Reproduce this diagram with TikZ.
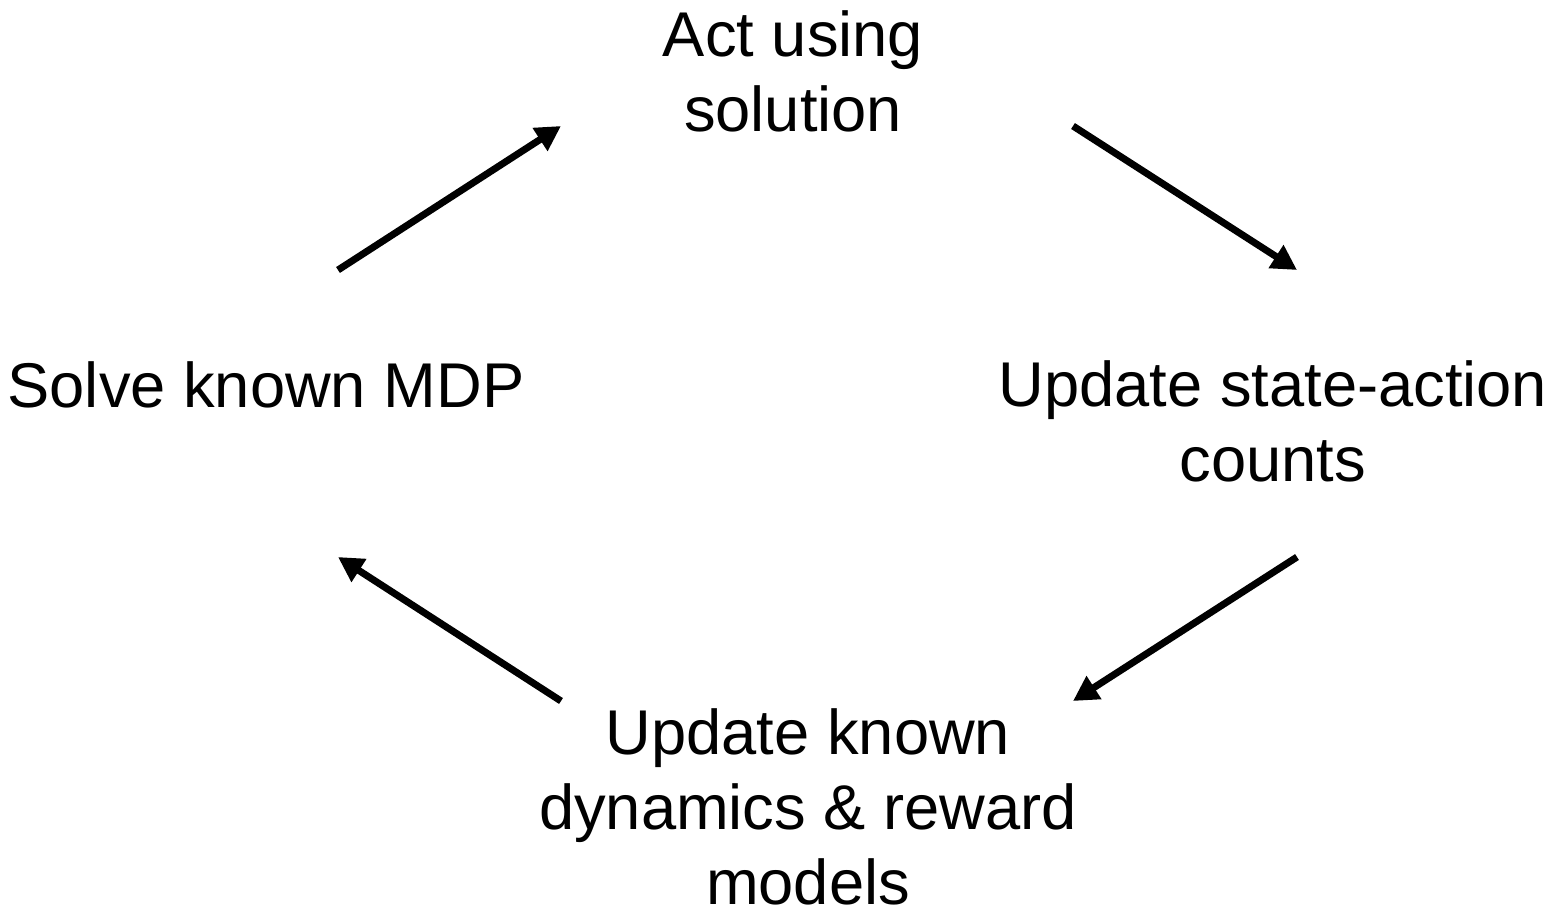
\documentclass[tikz,border=0pt]{standalone}
\usepackage{fontspec}
\setmainfont{Liberation Sans}
\usetikzlibrary{arrows.meta}

\begin{document}
\begin{tikzpicture}[
        x=0.02cm, y=-0.02cm,
        every node/.style={align=center, font=\fontsize{36}{42.5}\selectfont, inner sep=0pt},
        arrow/.style={-{Triangle[length=0.5cm,width=0.52cm]}, line width=0.14cm}
      ]
        \useasboundingbox (0,0) rectangle (1557,923);
        % base anchor = baseline of the last line
        \node (solve) [anchor=base] at (266,407) {Solve known MDP};
        \node (act)   [anchor=base] at (793,131) {Act using\\ solution};
        \node (counts)[anchor=base] at (1273,481) {Update state-action\\ counts};
        \node (models)[anchor=base] at (808,904) {Update known\\ dynamics \& reward\\ models};
        % arrow ends
        \coordinate (solve-out)  at (338,270);
        \coordinate (act-in)     at (561,126);
        \coordinate (act-out)    at (1073,126);
        \coordinate (counts-in)  at (1297,270);
        \coordinate (counts-out) at (1297,557);
        \coordinate (models-in)  at (1073,701);
        \coordinate (models-out) at (561,701);
        \coordinate (solve-in)   at (338,557);
        \draw[arrow] (solve-out)  -- (act-in);
        \draw[arrow] (act-out)    -- (counts-in);
        \draw[arrow] (counts-out) -- (models-in);
        \draw[arrow] (models-out) -- (solve-in);
      \end{tikzpicture}
\end{document}
